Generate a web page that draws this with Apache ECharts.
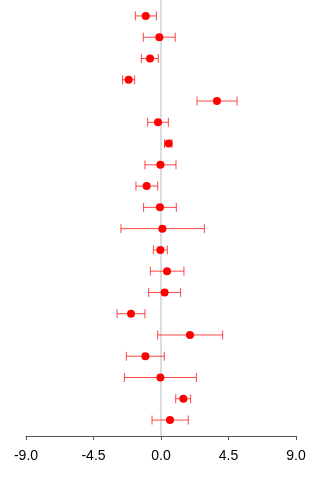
<!DOCTYPE html>
<html>
<head>
<meta charset="utf-8">
<script src="https://cdn.jsdelivr.net/npm/echarts@6/dist/echarts.min.js"></script>
<style>
  html, body { margin: 0; padding: 0; background: #fff; }
  #chart { width: 320px; height: 480px; }
</style>
</head>
<body>
<div id="chart"></div>
<script>
// Effect estimates with lower / upper confidence limits, one row per study (top to bottom)
const rows = [1, 2, 3, 4, 5, 6, 7, 8, 9, 10, 11, 12, 13, 14, 15, 16, 17, 18, 19, 20];
const estimates = [-1.02, -0.11, -0.73, -2.16, 3.73, -0.2, 0.51, -0.04, -0.96, -0.07,
                   0.09, -0.04, 0.4, 0.24, -2.0, 1.93, -1.04, -0.04, 1.49, 0.6];
const lower = [-1.71, -1.18, -1.31, -2.56, 2.4, -0.89, 0.24, -1.07, -1.67, -1.16,
               -2.67, -0.51, -0.71, -0.82, -2.93, -0.22, -2.31, -2.44, 0.98, -0.6];
const upper = [-0.31, 0.95, -0.18, -1.76, 5.07, 0.49, 0.73, 1.0, -0.22, 1.02,
               2.89, 0.42, 1.53, 1.31, -1.07, 4.11, 0.22, 2.36, 1.98, 1.82];
const xTicks = [-9, -4.5, 0, 4.5, 9];

const chart = echarts.init(document.getElementById('chart'), null, { renderer: 'canvas' });

const ciData = rows.map((r, i) => [lower[i], upper[i], r]);
const pointData = rows.map((r, i) => [estimates[i], r]);

const option = {
  animation: false,
  grid: { left: 26, right: 24, top: 0, bottom: 44 },
  xAxis: {
    type: 'value',
    min: xTicks[0],
    max: xTicks[xTicks.length - 1],
    interval: xTicks[1] - xTicks[0],
    splitLine: { show: false },
    axisLine: { show: true, onZero: false, lineStyle: { color: '#555', width: 1 } },
    axisTick: { show: true, length: 4, lineStyle: { color: '#555' } },
    axisLabel: {
      margin: 13,
      color: '#000',
      fontSize: 14,
      fontFamily: 'Liberation Sans, Arial, sans-serif',
      formatter: v => v.toFixed(1)
    }
  },
  yAxis: {
    type: 'value',
    inverse: true,
    min: 0.25,
    max: 20.75,
    show: false
  },
  series: [
    {
      // reference line at zero effect
      type: 'line',
      data: [[0, 0.25], [0, 20.75]],
      symbol: 'none',
      lineStyle: { color: '#dcdcdc', width: 2 },
      z: 1,
      silent: true
    },
    {
      // confidence interval whiskers with end caps
      type: 'custom',
      data: ciData,
      z: 2,
      renderItem: function (params, api) {
        const y = api.value(2);
        const p1 = api.coord([api.value(0), y]);
        const p2 = api.coord([api.value(1), y]);
        const h = 4.5;
        const style = { stroke: 'rgba(255,0,0,0.72)', lineWidth: 1, fill: null };
        return {
          type: 'group',
          children: [
            { type: 'line', shape: { x1: p1[0], y1: p1[1], x2: p2[0], y2: p2[1] }, style: style },
            { type: 'line', shape: { x1: p1[0], y1: p1[1] - h, x2: p1[0], y2: p1[1] + h }, style: style },
            { type: 'line', shape: { x1: p2[0], y1: p2[1] - h, x2: p2[0], y2: p2[1] + h }, style: style }
          ]
        };
      }
    },
    {
      type: 'scatter',
      data: pointData,
      symbol: 'circle',
      symbolSize: 8,
      itemStyle: { color: '#ff0000', opacity: 1 },
      z: 3
    }
  ]
};

chart.setOption(option);
</script>
</body>
</html>
